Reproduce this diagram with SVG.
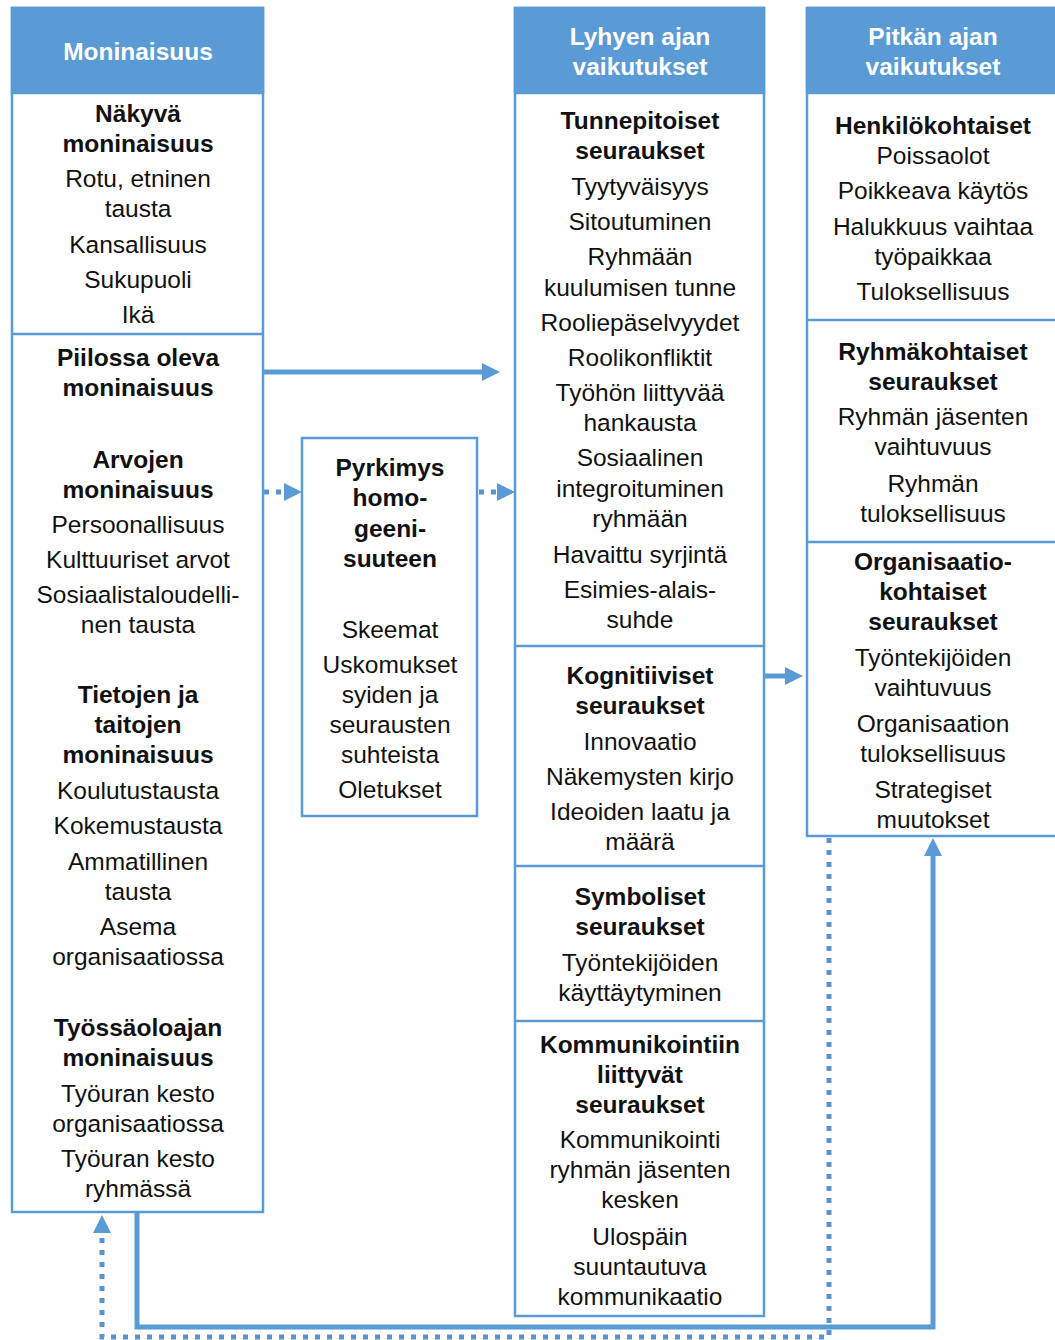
<svg xmlns="http://www.w3.org/2000/svg" width="1055" height="1340" viewBox="0 0 1055 1340">
<style>
.box{fill:#fff;stroke:#5b9bd5;stroke-width:2.5}
.hdr{fill:#5b9bd5;stroke:#5b9bd5;stroke-width:2.5}
.div{stroke:#5b9bd5;stroke-width:2.5}
text{font-family:"Liberation Sans",Arial,sans-serif;font-size:24.5px;text-anchor:middle;dominant-baseline:central;fill:#111}
.b{font-weight:bold}
.h{font-weight:bold;fill:#fff}
.c{fill:none;stroke:#5b9bd5;stroke-width:5}
.d{fill:none;stroke:#5b92cf;stroke-width:5;stroke-dasharray:5 7}
</style>
<defs>
<marker id="ah" markerUnits="userSpaceOnUse" markerWidth="20" markerHeight="20" refX="4" refY="9" orient="auto">
<path d="M0,0 L18,9 L0,18 z" fill="#5b9bd5"/>
</marker>
</defs>
<g id="connectors">
<line class="c" x1="263" y1="372" x2="486" y2="372" marker-end="url(#ah)"/>
<line class="d" x1="264" y1="492" x2="288" y2="492" marker-end="url(#ah)"/>
<line class="d" x1="479" y1="492" x2="501" y2="492" marker-end="url(#ah)"/>
<line class="c" x1="765" y1="676" x2="789" y2="676" marker-end="url(#ah)"/>
<path class="c" d="M137,1212 V1327 H933 V852" marker-end="url(#ah)"/>
<path class="d" d="M829,838 V1337 H102 V1229" marker-end="url(#ah)"/>
</g>
<g id="col1">
<rect class="box" x="12" y="8" width="251" height="1204"/>
<rect class="hdr" x="12" y="8" width="251" height="85"/>
<line class="div" x1="12" y1="334" x2="263" y2="334"/>
<text class="h" x="138" y="51">Moninaisuus</text>
<text class="b" x="138" y="113">Näkyvä</text>
<text class="b" x="138" y="143">moninaisuus</text>
<text x="138" y="178">Rotu, etninen</text>
<text x="138" y="208">tausta</text>
<text x="138" y="244">Kansallisuus</text>
<text x="138" y="279">Sukupuoli</text>
<text x="138" y="314">Ikä</text>
<text class="b" x="138" y="357">Piilossa oleva</text>
<text class="b" x="138" y="387">moninaisuus</text>
<text class="b" x="138" y="459">Arvojen</text>
<text class="b" x="138" y="489">moninaisuus</text>
<text x="138" y="524">Persoonallisuus</text>
<text x="138" y="559">Kulttuuriset arvot</text>
<text x="138" y="594">Sosiaalistaloudelli-</text>
<text x="138" y="624">nen tausta</text>
<text class="b" x="138" y="694">Tietojen ja</text>
<text class="b" x="138" y="724">taitojen</text>
<text class="b" x="138" y="754">moninaisuus</text>
<text x="138" y="790">Koulutustausta</text>
<text x="138" y="825">Kokemustausta</text>
<text x="138" y="861">Ammatillinen</text>
<text x="138" y="891">tausta</text>
<text x="138" y="926">Asema</text>
<text x="138" y="956">organisaatiossa</text>
<text class="b" x="138" y="1027">Työssäoloajan</text>
<text class="b" x="138" y="1057">moninaisuus</text>
<text x="138" y="1093">Työuran kesto</text>
<text x="138" y="1123">organisaatiossa</text>
<text x="138" y="1158">Työuran kesto</text>
<text x="138" y="1188">ryhmässä</text>
</g>
<g id="pyrkimys">
<rect class="box" x="302" y="438" width="175" height="378"/>
<text class="b" x="390" y="467">Pyrkimys</text>
<text class="b" x="390" y="497">homo-</text>
<text class="b" x="390" y="528">geeni-</text>
<text class="b" x="390" y="558">suuteen</text>
<text x="390" y="629">Skeemat</text>
<text x="390" y="664">Uskomukset</text>
<text x="390" y="694">syiden ja</text>
<text x="390" y="724">seurausten</text>
<text x="390" y="754">suhteista</text>
<text x="390" y="789">Oletukset</text>
</g>
<g id="col2">
<rect class="box" x="515" y="8" width="249" height="1308"/>
<rect class="hdr" x="515" y="8" width="249" height="85"/>
<line class="div" x1="515" y1="646" x2="764" y2="646"/>
<line class="div" x1="515" y1="866" x2="764" y2="866"/>
<line class="div" x1="515" y1="1021" x2="764" y2="1021"/>
<text class="h" x="640" y="36">Lyhyen ajan</text>
<text class="h" x="640" y="66">vaikutukset</text>
<text class="b" x="640" y="120">Tunnepitoiset</text>
<text class="b" x="640" y="150">seuraukset</text>
<text x="640" y="186">Tyytyväisyys</text>
<text x="640" y="221">Sitoutuminen</text>
<text x="640" y="256">Ryhmään</text>
<text x="640" y="287">kuulumisen tunne</text>
<text x="640" y="322">Rooliepäselvyydet</text>
<text x="640" y="357">Roolikonfliktit</text>
<text x="640" y="392">Työhön liittyvää</text>
<text x="640" y="422">hankausta</text>
<text x="640" y="457">Sosiaalinen</text>
<text x="640" y="488">integroituminen</text>
<text x="640" y="518">ryhmään</text>
<text x="640" y="554">Havaittu syrjintä</text>
<text x="640" y="589">Esimies-alais-</text>
<text x="640" y="619">suhde</text>
<text class="b" x="640" y="675">Kognitiiviset</text>
<text class="b" x="640" y="705">seuraukset</text>
<text x="640" y="741">Innovaatio</text>
<text x="640" y="776">Näkemysten kirjo</text>
<text x="640" y="811">Ideoiden laatu ja</text>
<text x="640" y="841">määrä</text>
<text class="b" x="640" y="896">Symboliset</text>
<text class="b" x="640" y="926">seuraukset</text>
<text x="640" y="962">Työntekijöiden</text>
<text x="640" y="992">käyttäytyminen</text>
<text class="b" x="640" y="1044">Kommunikointiin</text>
<text class="b" x="640" y="1074">liittyvät</text>
<text class="b" x="640" y="1104">seuraukset</text>
<text x="640" y="1139">Kommunikointi</text>
<text x="640" y="1169">ryhmän jäsenten</text>
<text x="640" y="1199">kesken</text>
<text x="640" y="1236">Ulospäin</text>
<text x="640" y="1266">suuntautuva</text>
<text x="640" y="1296">kommunikaatio</text>
</g>
<g id="col3">
<rect class="box" x="807" y="8" width="252" height="828"/>
<rect class="hdr" x="807" y="8" width="252" height="85"/>
<line class="div" x1="807" y1="320" x2="1059" y2="320"/>
<line class="div" x1="807" y1="542" x2="1059" y2="542"/>
<text class="h" x="933" y="36">Pitkän ajan</text>
<text class="h" x="933" y="66">vaikutukset</text>
<text class="b" x="933" y="125">Henkilökohtaiset</text>
<text x="933" y="155">Poissaolot</text>
<text x="933" y="190">Poikkeava käytös</text>
<text x="933" y="226">Halukkuus vaihtaa</text>
<text x="933" y="256">työpaikkaa</text>
<text x="933" y="291">Tuloksellisuus</text>
<text class="b" x="933" y="351">Ryhmäkohtaiset</text>
<text class="b" x="933" y="381">seuraukset</text>
<text x="933" y="416">Ryhmän jäsenten</text>
<text x="933" y="446">vaihtuvuus</text>
<text x="933" y="483">Ryhmän</text>
<text x="933" y="513">tuloksellisuus</text>
<text class="b" x="933" y="561">Organisaatio-</text>
<text class="b" x="933" y="591">kohtaiset</text>
<text class="b" x="933" y="621">seuraukset</text>
<text x="933" y="657">Työntekijöiden</text>
<text x="933" y="687">vaihtuvuus</text>
<text x="933" y="723">Organisaation</text>
<text x="933" y="753">tuloksellisuus</text>
<text x="933" y="789">Strategiset</text>
<text x="933" y="819">muutokset</text>
</g>
</svg>
